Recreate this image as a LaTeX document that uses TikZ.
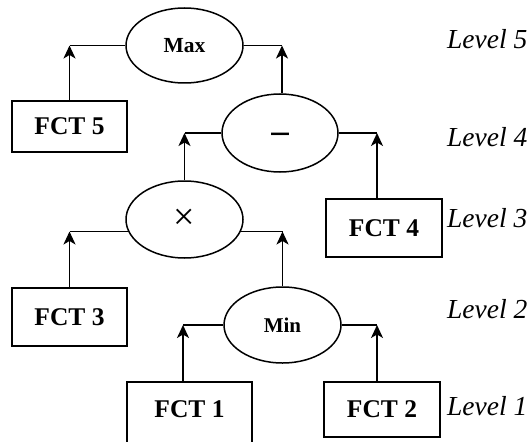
\documentclass[tikz,border=0pt]{standalone}
\usepackage{fontspec}
\setmainfont{Liberation Serif}
\usetikzlibrary{shapes.geometric,arrows.meta}
\tikzset{
  opnode/.style={ellipse, draw, line width=1.5pt, inner sep=0pt, minimum width=117pt, minimum height=76pt, font=\bfseries\fontsize{21}{24}\selectfont},
  fctbox/.style={rectangle, draw, line width=1.6pt, inner sep=0pt, minimum width=116pt, font=\bfseries\fontsize{25.5}{30}\selectfont},
  lvl/.style={anchor=base west, inner sep=0pt, font=\itshape\fontsize{27.5}{32}\selectfont},
  link/.style={line width=1.8pt},
  uparrow/.style={line width=1.8pt, -{Stealth[length=13pt, width=12pt, inset=3.5pt]}}
}
\begin{document}
\begin{tikzpicture}[x=1pt, y=-1pt]
\useasboundingbox (0,0) rectangle (529,441);

% operator nodes
\node[opnode, minimum height=75pt, font=\bfseries\fontsize{21.5}{24}\selectfont] (max) at (184.5,45.5) {Max};
\node[opnode, minimum width=116pt, minimum height=78pt] (minus) at (280,133) {};
\node[opnode, font=\fontsize{38}{40}\selectfont, minimum height=77pt] (times) at (184.5,219.5) {×};
\node[opnode] (min) at (282.5,325) {Min};
\node[font=\bfseries\fontsize{35}{36}\selectfont, inner sep=0pt] (minussign) at (280,138) {–};

% function boxes
\node[fctbox, minimum width=115pt, minimum height=51pt] (fct5) at (69.5,126.5) {FCT 5};
\node[fctbox, minimum height=58pt] (fct4) at (384,228) {FCT 4};
\node[fctbox, minimum width=115pt, minimum height=58pt] (fct3) at (69.5,317) {FCT 3};
\node[fctbox, minimum height=55pt] (fct2) at (382,409.5) {FCT 2};
\node[fctbox, minimum width=125pt, minimum height=68pt, text depth=13pt] (fct1) at (189.5,416) {FCT 1};

% level labels
\node[lvl] (l5) at (447,49) {Level 5};
\node[lvl] (l4) at (447,146) {Level 4};
\node[lvl] (l3) at (447,227) {Level 3};
\node[lvl] (l2) at (447,318) {Level 2};
\node[lvl] (l1) at (447,415) {Level 1};

% Max connections
\draw[link] (max.west) -- (fct5.north |- max.west);
\draw[uparrow] (fct5.north) -- (fct5.north |- max.west);
\draw[link] (max.east) -- ([xshift=2pt]minus.north |- max.east);
\draw[uparrow] ([xshift=2pt]minus.north) -- ([xshift=2pt]minus.north |- max.east);

% Minus connections
\draw[link] (minus.west) -- (times.north |- minus.west);
\draw[uparrow] (times.north) -- (times.north |- minus.west);
\draw[link] (minus.east) -- ([xshift=-7pt]fct4.north |- minus.east);
\draw[uparrow] ([xshift=-7pt]fct4.north) -- ([xshift=-7pt]fct4.north |- minus.east);

% Times connections
\draw[link] (times.192.7) -- (fct3.north |- times.192.7);
\draw[uparrow] (fct3.north) -- (fct3.north |- times.192.7);
\draw[link] (times.-12.7) -- (min.north |- times.-12.7);
\draw[uparrow] (min.north) -- (min.north |- times.-12.7);

% Min connections
\draw[link] (min.west) -- ([xshift=-6.5pt]fct1.north |- min.west);
\draw[uparrow] ([xshift=-6.5pt]fct1.north) -- ([xshift=-6.5pt]fct1.north |- min.west);
\draw[link] (min.east) -- ([xshift=-5pt]fct2.north |- min.east);
\draw[uparrow] ([xshift=-5pt]fct2.north) -- ([xshift=-5pt]fct2.north |- min.east);
\end{tikzpicture}
\end{document}
